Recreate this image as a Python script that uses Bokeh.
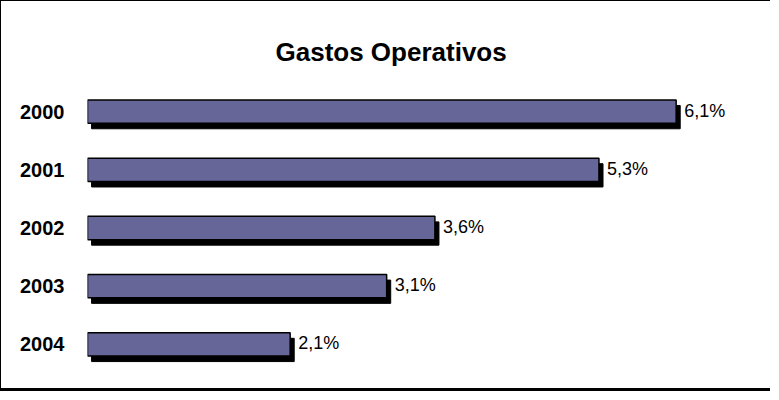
from bokeh.plotting import figure
from bokeh.models import ColumnDataSource, Range1d, FactorRange
from bokeh.transform import dodge
from bokeh.core.properties import value
from bokeh.embed import file_html
from bokeh.resources import INLINE

years = ["2000", "2001", "2002", "2003", "2004"]
gastos = [6.1, 5.3, 3.6, 3.1, 2.1]
labels = [f"{v:.1f}".replace(".", ",") + "%" for v in gastos]

SHADOW_DX = 0.042   # data units (~4px)
shadow_right = [v + SHADOW_DX for v in gastos]
shadow_left = [SHADOW_DX] * len(gastos)

src = ColumnDataSource(dict(year=years, val=gastos, lab=labels,
                            sr=shadow_right, sl=shadow_left, zero=[0] * len(gastos)))

FONT = "Liberation Sans"

p = figure(width=770, height=391, output_backend="svg", toolbar_location=None,
           y_range=FactorRange(factors=list(reversed(years)), range_padding=0),
           x_range=Range1d(0, 7.088),
           min_border_left=86, min_border_right=0, min_border_top=81, min_border_bottom=19,
           title="Gastos Operativos")
p.styles = {"border-left": "1px solid black", "border-top": "1px solid black",
            "border-bottom": "3px solid black"}
p.outline_line_color = None
p.title.text_font = FONT
p.title.text_font_size = "26px"
p.title.text_font_style = "bold"
p.title.text_color = "black"
p.title.align = "left"
p.title.offset = 188
p.title.standoff = 32

p.xgrid.visible = False
p.ygrid.visible = False
p.xaxis.visible = False
p.yaxis.axis_line_color = None
p.yaxis.major_tick_line_color = None
p.yaxis.minor_tick_line_color = None
p.yaxis.major_label_text_font = FONT
p.yaxis.major_label_text_font_size = "20px"
p.yaxis.major_label_text_font_style = "bold"
p.yaxis.major_label_text_color = "black"
p.yaxis.major_label_standoff = 17

# shadow
p.hbar(y=dodge("year", -0.095, range=p.y_range), left="sl", right="sr", height=0.4,
       source=src, fill_color="black", line_color="black")
# bars
p.hbar(y="year", left="zero", right="val", height=0.4, source=src,
       fill_color="#666699", line_color="black", line_width=1.5)
# value labels
p.text(x="sr", y="year", text="lab", source=src, x_offset=4, y_offset=-1,
       text_font=value(FONT), text_font_size="18px", text_baseline="middle",
       text_align="left", text_color="black")

open("out.html", "w").write(file_html(p, INLINE))
